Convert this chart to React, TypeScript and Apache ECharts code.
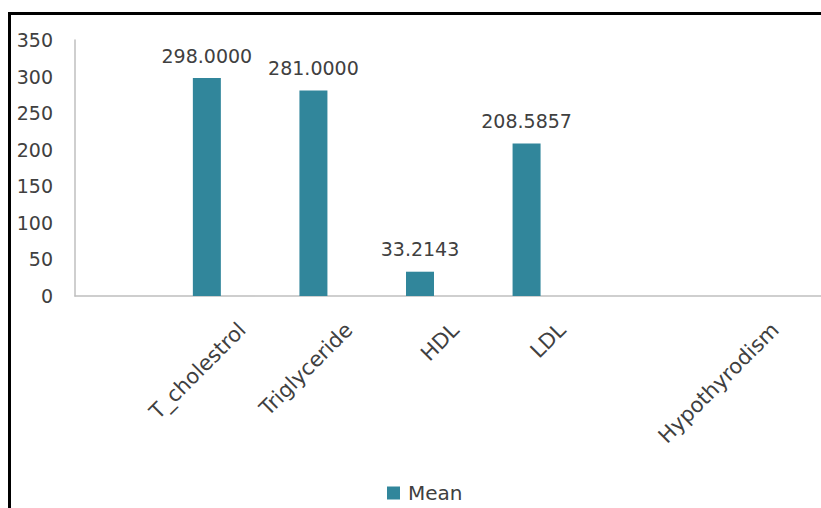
import React, { useEffect, useRef } from "react";
import * as echarts from "echarts";

const categories = ["", "T_cholestrol", "Triglyceride", "HDL", "LDL", "", "Hypothyrodism"];
const meanValues = [null, 298.0, 281.0, 33.2143, 208.5857, null, null];
const emptyValues = [null, null, null, null, null, null, null];
const yTicks = { min: 0, max: 350, interval: 50 };

const FONT = "DejaVu Sans";
const TEXT = "#404040";
const AXIS = "#bfbfbf";
const BAR = "#31869b";

export default function App() {
  const ref = useRef<HTMLDivElement>(null);
  useEffect(() => {
    if (!ref.current) return;
    const chart = echarts.init(ref.current, undefined, { renderer: "svg" });
    chart.setOption({
      animation: false,
      backgroundColor: "#ffffff",
      grid: { left: 75, right: -3, top: 40, bottom: 212, containLabel: false },
      legend: {
        data: ["Mean"],
        left: 387,
        top: 483,
        padding: 0,
        icon: "rect",
        itemWidth: 13,
        itemHeight: 13,
        itemGap: 8,
        textStyle: { fontFamily: FONT, fontSize: 20, color: TEXT, padding: [0, 0, 0, 3] },
      },
      xAxis: {
        type: "category",
        data: categories,
        boundaryGap: true,
        axisLine: { show: true, lineStyle: { color: AXIS, width: 1.5 } },
        axisTick: { show: false },
        splitLine: { show: false },
        axisLabel: {
          interval: 0,
          rotate: 45,
          margin: 23,
          verticalAlign: "top",
          fontFamily: FONT,
          fontSize: 21,
          color: TEXT,
        },
      },
      yAxis: {
        type: "value",
        min: yTicks.min,
        max: yTicks.max,
        interval: yTicks.interval,
        axisLine: { show: true, lineStyle: { color: AXIS, width: 1.5 } },
        axisTick: { show: false },
        splitLine: { show: false },
        axisLabel: { margin: 22, fontFamily: FONT, fontSize: 19, color: TEXT },
      },
      series: [
        {
          name: "Mean",
          type: "bar",
          data: meanValues,
          barWidth: 28,
          barGap: "0%",
          itemStyle: { color: BAR },
          label: {
            show: true,
            position: "top",
            distance: 13,
            fontFamily: FONT,
            fontSize: 19,
            color: TEXT,
            formatter: (p: any) => Number(p.value).toFixed(4),
          },
        },
        { name: "S2", type: "bar", data: emptyValues, barWidth: 28, barGap: "0%" },
        { name: "S3", type: "bar", data: emptyValues, barWidth: 28, barGap: "0%" },
      ],
      graphic: [
        {
          type: "polyline",
          shape: { points: [[9.5, 508], [9.5, 13.5], [821, 13.5]] },
          style: { stroke: "#000000", lineWidth: 3, fill: "none" },
          silent: true,
        },
      ],
    });
    return () => chart.dispose();
  }, []);
  return (
    <div
      ref={ref}
      style={{ position: "fixed", left: 0, top: 0, width: 821, height: 508 }}
    />
  );
}
